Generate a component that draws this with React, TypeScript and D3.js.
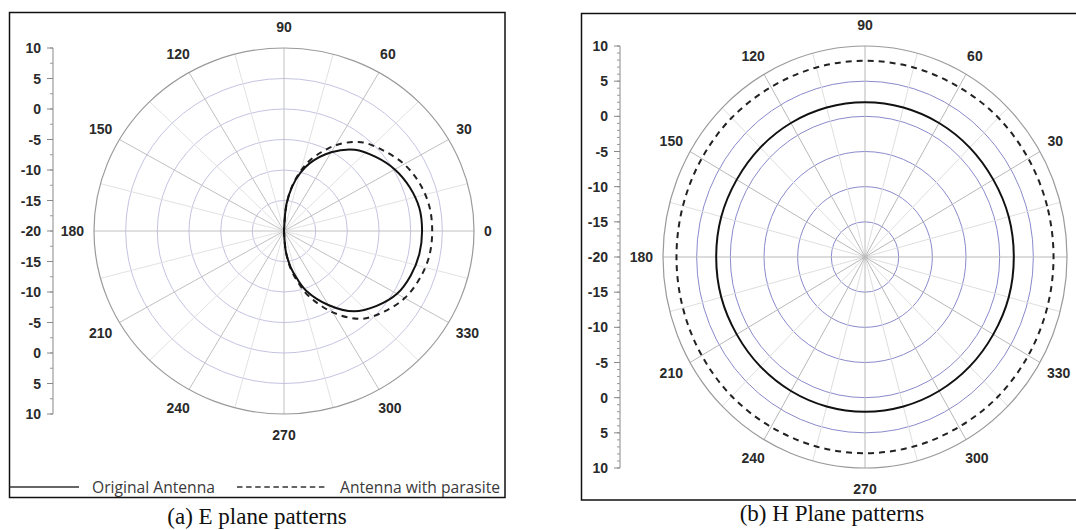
import React from "react";
import * as d3 from "d3";

// ---- data ----
const scaleLabels = ["10", "5", "0", "-5", "-10", "-15", "-20", "-15", "-10", "-5", "0", "5", "10"];
const ringLevels = [-15, -10, -5, 0, 5];
const angleTicks = [0, 30, 60, 90, 120, 150, 180, 210, 240, 270, 300, 330];
const minorSpokes = [15, 45, 75, 105, 135, 165, 195, 225, 255, 285, 315, 345];

// E plane (degrees, dB)
const eAngles = [-90, -85, -80, -75, -70, -60, -50, -40, -30, -20, -10, 0, 10, 20, 30, 40, 50, 60, 70, 75, 80, 85, 90];
const eOriginal = [-20, -16.6, -14.0, -11.8, -9.5, -6.0, -2.8, -0.9, 0.6, 1.3, 1.7, 1.8, 1.7, 1.1, 0.2, -1.1, -2.6, -5.1, -8.2, -10.2, -12.6, -15.6, -20];
const eParasite = [-20, -16.6, -13.6, -11.2, -8.7, -4.6, -1.2, 0.6, 2.0, 2.8, 3.3, 3.4, 3.3, 2.8, 1.9, 0.5, -1.0, -3.8, -7.5, -9.8, -12.5, -15.9, -20];

// H plane (degrees, dB)
const hAngles = [0, 15, 30, 45, 60, 75, 90, 105, 120, 135, 150, 165, 180, 195, 210, 225, 240, 255, 270, 285, 300, 315, 330, 345];
const hOriginal = [2.1, 2.1, 2.0, 2.0, 2.0, 2.0, 2.0, 2.0, 2.0, 2.0, 2.0, 2.1, 2.1, 2.1, 2.0, 2.0, 2.0, 2.0, 2.0, 2.0, 2.0, 2.0, 2.0, 2.1];
const hParasite = [8.0, 8.0, 8.0, 8.0, 7.9, 7.9, 7.9, 7.9, 7.9, 8.0, 8.0, 8.0, 8.0, 8.0, 8.0, 8.0, 7.9, 7.9, 7.9, 7.9, 7.9, 8.0, 8.0, 8.0];

const legendLabels = ["Original Antenna", "Antenna with parasite"];
const captions = ["(a) E plane patterns", "(b) H Plane patterns"];

type PolarProps = {
  cx: number; cy: number; rx: number; ry: number;
  axisX: number; minorStep: number; fontSize: number;
  ringColor: string; spokeColor: string; minorColor: string;
  angles: number[]; solid: number[]; dashed: number[]; closed: boolean;
};

const rScale = d3.scaleLinear().domain([-20, 10]).range([0, 1]).clamp(true);
const rad = (deg: number) => (deg * Math.PI) / 180;

function Polar(p: PolarProps) {
  const pt = (a: number, v: number): [number, number] => [
    p.cx + p.rx * rScale(v) * Math.cos(rad(a)),
    p.cy - p.ry * rScale(v) * Math.sin(rad(a)),
  ];
  const axisScale = d3.scaleLinear().domain([0, 60]).range([p.cy - p.ry, p.cy + p.ry]);
  const minorTicks = d3.range(0, 60 + 0.001, p.minorStep);
  const mk = (vals: number[]) =>
    d3
      .line<[number, number]>()
      .curve(p.closed ? d3.curveCatmullRomClosed : d3.curveCatmullRom)(
        vals.map((v, i) => pt(p.angles[i], v))
      ) || "";
  const font = "'Liberation Sans', Arial, sans-serif";
  return (
    <g>
      {ringLevels.map((v) => (
        <ellipse key={v} cx={p.cx} cy={p.cy} rx={p.rx * rScale(v)} ry={p.ry * rScale(v)} fill="none" stroke={p.ringColor} strokeWidth={1} />
      ))}
      {minorSpokes.map((a) => {
        const [x, y] = pt(a, 10);
        return <line key={"m" + a} x1={p.cx} y1={p.cy} x2={x} y2={y} stroke={p.minorColor} strokeWidth={1} />;
      })}
      {angleTicks.map((a) => {
        const [x, y] = pt(a, 10);
        return <line key={"s" + a} x1={p.cx} y1={p.cy} x2={x} y2={y} stroke={p.spokeColor} strokeWidth={1} />;
      })}
      <ellipse cx={p.cx} cy={p.cy} rx={p.rx} ry={p.ry} fill="none" stroke="#9a9a9a" strokeWidth={1.2} />
      {angleTicks.map((a) => {
        const label = String(a);
        const halfW = label.length * p.fontSize * 0.278;
        const x = p.cx + (p.rx + 10 + halfW) * Math.cos(rad(a));
        const y = p.cy - (p.ry + 21) * Math.sin(rad(a));
        return (
          <text key={"t" + a} x={x} y={y} textAnchor="middle" dominantBaseline="central" fontFamily={font} fontWeight="bold" fontSize={p.fontSize} fill="#2a2a2a">
            {label}
          </text>
        );
      })}
      <line x1={p.axisX} x2={p.axisX} y1={axisScale(0)} y2={axisScale(60)} stroke="#888" strokeWidth={1} />
      {minorTicks.map((t) => (
        <line key={"mt" + t} x1={p.axisX - 3} x2={p.axisX} y1={axisScale(t)} y2={axisScale(t)} stroke="#999" strokeWidth={1} />
      ))}
      {scaleLabels.map((l, i) => (
        <g key={"sl" + i}>
          <line x1={p.axisX - 6} x2={p.axisX} y1={axisScale(i * 5)} y2={axisScale(i * 5)} stroke="#888" strokeWidth={1} />
          <text x={p.axisX - 12} y={axisScale(i * 5)} textAnchor="end" dominantBaseline="central" fontFamily={font} fontWeight="bold" fontSize={p.fontSize} fill="#2a2a2a">
            {l}
          </text>
        </g>
      ))}
      <path d={mk(p.dashed)} fill="none" stroke="#222" strokeWidth={2} strokeDasharray="6 5" />
      <path d={mk(p.solid)} fill="none" stroke="#111" strokeWidth={2} />
    </g>
  );
}

export default function App() {
  const legendFont = "'Open Sans', sans-serif";
  const serif = "'Liberation Serif', 'Times New Roman', serif";
  return (
    <svg width={1076} height={530} style={{ position: "absolute", left: 0, top: 0, background: "#fff" }}>
      <rect x={0} y={0} width={1076} height={530} fill="#fff" />
      {/* Left panel */}
      <rect x={9.5} y={12.5} width={495.5} height={485} fill="#fff" stroke="#111" strokeWidth={1.5} />
      <Polar
        cx={284} cy={231} rx={190} ry={183}
        axisX={53} minorStep={2.5} fontSize={14}
        ringColor="#c4c4e2" spokeColor="#c0c0c0" minorColor="#e2e2e2"
        angles={eAngles} solid={eOriginal} dashed={eParasite} closed={false}
      />
      <line x1={9.5} x2={79} y1={487} y2={487} stroke="#333" strokeWidth={1.3} />
      <text x={92} y={492.5} fontFamily={legendFont} fontSize={15.5} fill="#3a3a3a" textLength={123} lengthAdjust="spacingAndGlyphs">{legendLabels[0]}</text>
      <line x1={237} x2={327} y1={487} y2={487} stroke="#333" strokeWidth={1.3} strokeDasharray="5.5 3.6" />
      <text x={340} y={492.5} fontFamily={legendFont} fontSize={15.5} fill="#3a3a3a" textLength={160} lengthAdjust="spacingAndGlyphs">{legendLabels[1]}</text>
      <text x={257} y={524} textAnchor="middle" fontFamily={serif} fontSize={23} fill="#111">{captions[0]}</text>

      {/* Right panel */}
      <rect x={581.5} y={13.5} width={600} height={486.5} fill="#fff" stroke="#111" strokeWidth={1.5} />
      <Polar
        cx={865} cy={257} rx={202} ry={211}
        axisX={620} minorStep={1} fontSize={14}
        ringColor="#8a8acc" spokeColor="#b8b8b8" minorColor="#dedede"
        angles={hAngles} solid={hOriginal} dashed={hParasite} closed={true}
      />
      <text x={832} y={521} textAnchor="middle" fontFamily={serif} fontSize={23} fill="#111">{captions[1]}</text>
    </svg>
  );
}
